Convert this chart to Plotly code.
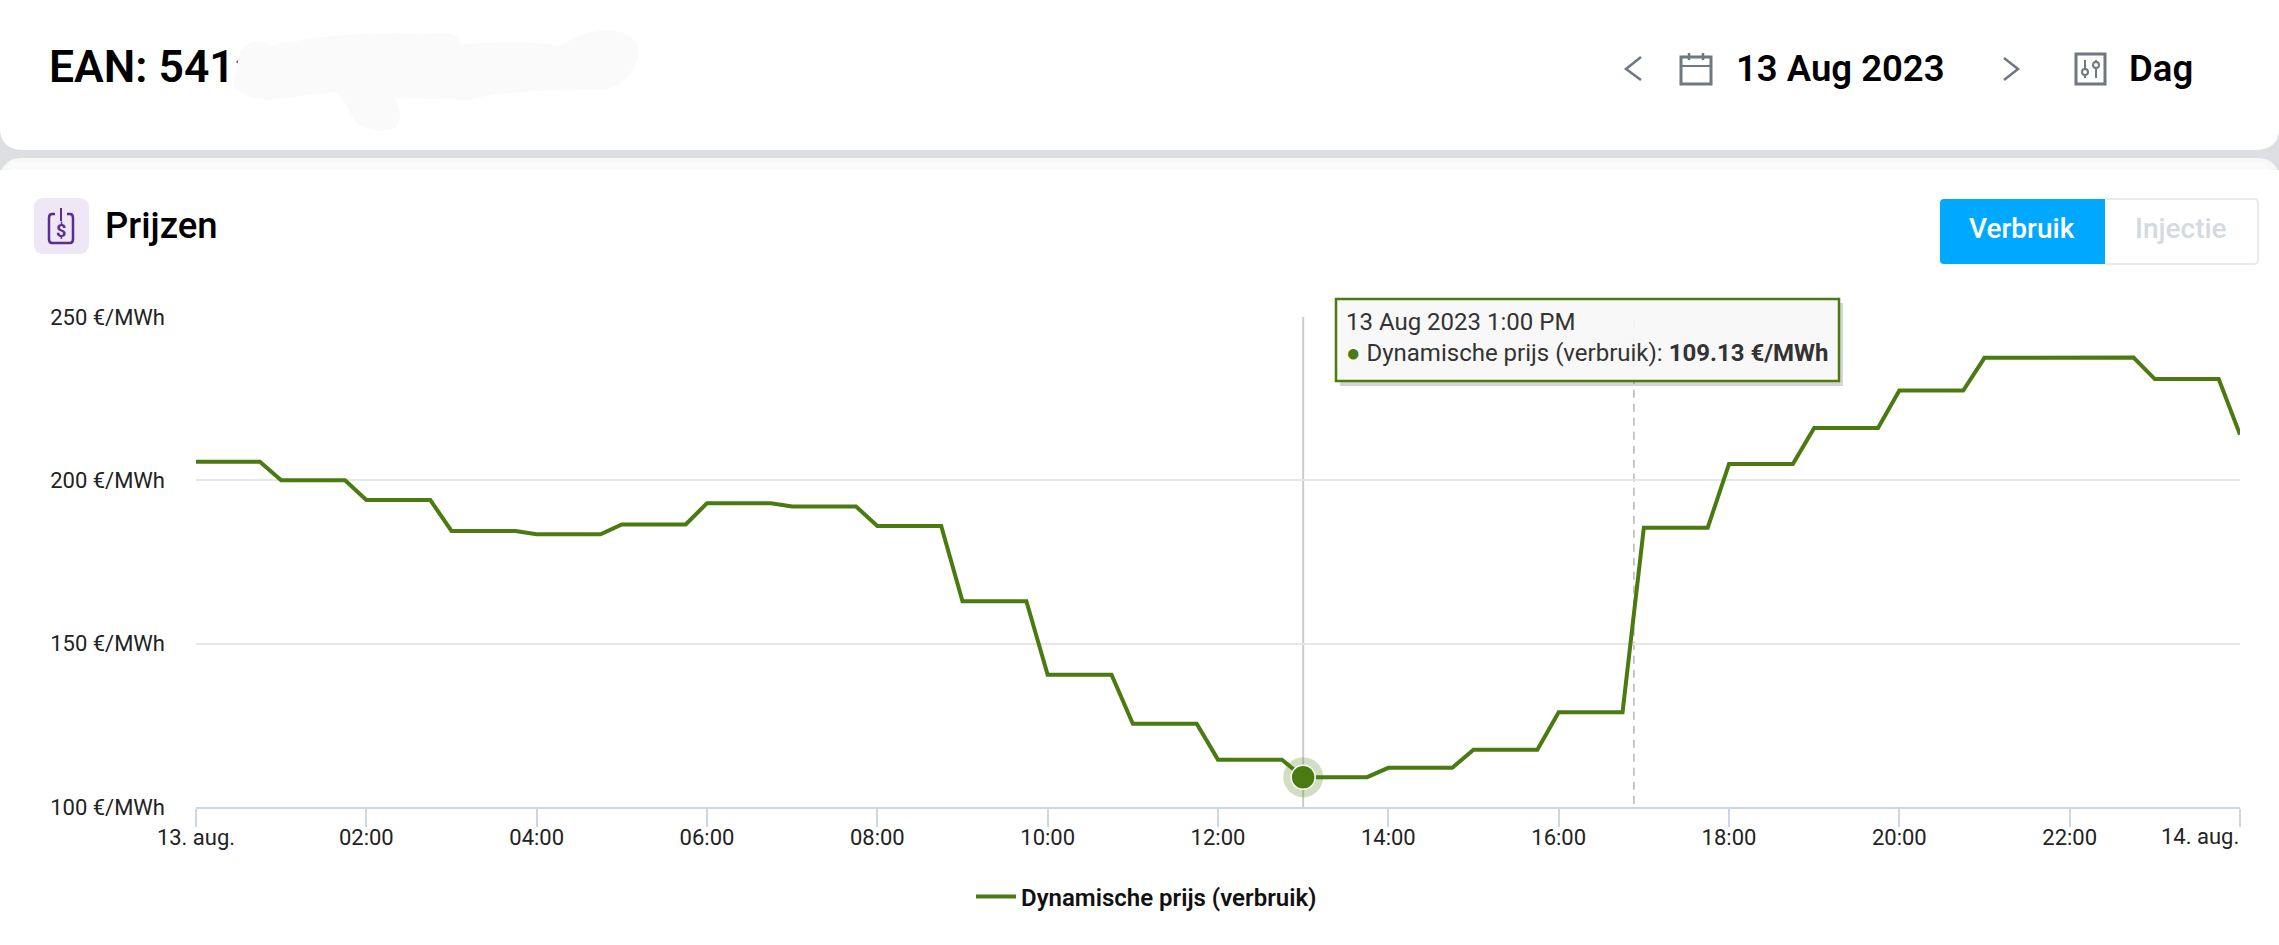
import pandas as pd
import plotly.graph_objects as go

W, H = 2279, 945

hourly_prices = [205.7, 200.0, 194.0, 184.5, 183.5, 186.5, 193.0, 192.0, 186.0, 163.0, 140.5, 125.5,
                 114.5, 109.13, 112.0, 117.5, 129.0, 185.5, 205.0, 216.0, 227.5, 237.5, 237.6, 231.0]
end_of_day_price = 214.0
day_start = "2023-08-13 00:00"
day_end = "2023-08-14 00:00"
highlight_time = "2023-08-13 13:00"
highlight_price = 109.13
now_time = "2023-08-13 16:53"
tick_times = pd.date_range(day_start, day_end, freq="2h")
tick_labels = ["13. aug.", "02:00", "04:00", "06:00", "08:00", "10:00", "12:00", "14:00",
               "16:00", "18:00", "20:00", "22:00", ""]
end_tick_label = "14. aug."
y_ticks = [100, 150, 200, 250]
y_tick_labels = ["100 €/MWh", "150 €/MWh", "200 €/MWh", "250 €/MWh"]
series_name = "Dynamische prijs (verbruik)"

GREEN = "#4a7a10"
FONT = "Roboto"


def px(x):
    return x / W


def py(y):
    return 1 - y / H


def pth(*parts):
    """Path written in picture pixels, converted to paper coordinates."""
    out = []
    for p in parts:
        if isinstance(p, str):
            out.append(p)
        else:
            out.append(f"{px(p[0]):.5f},{py(p[1]):.5f}")
    return " ".join(out)


shapes, annots = [], []


def rect(x0, y0, x1, y1, fill=None, line=None, lw=0, layer="below"):
    shapes.append(dict(type="rect", xref="paper", yref="paper", x0=px(x0), x1=px(x1), y0=py(y0), y1=py(y1),
                       fillcolor=fill or "rgba(0,0,0,0)", line=dict(color=line or "rgba(0,0,0,0)", width=lw), layer=layer))


def path(d, fill=None, line=None, lw=0, layer="below"):
    shapes.append(dict(type="path", xref="paper", yref="paper", path=d, fillcolor=fill or "rgba(0,0,0,0)",
                       line=dict(color=line or "rgba(0,0,0,0)", width=lw), layer=layer))


def seg(x0, y0, x1, y1, color, lw=2, layer="below"):
    shapes.append(dict(type="line", xref="paper", yref="paper", x0=px(x0), x1=px(x1), y0=py(y0), y1=py(y1),
                       line=dict(color=color, width=lw), layer=layer))


def circ(cx, cy, r, color, lw=2):
    shapes.append(dict(type="circle", xref="paper", yref="paper", x0=px(cx - r), x1=px(cx + r), y0=py(cy + r), y1=py(cy - r),
                       fillcolor="white", line=dict(color=color, width=lw), layer="below"))


def text(x, y, s, size, color="#000000", weight=400, anchor="left"):
    annots.append(dict(xref="paper", yref="paper", x=px(x), y=py(y), text=s, showarrow=False, xanchor=anchor,
                       yanchor="middle", align="left", borderpad=0, font=dict(family=FONT, size=size, color=color, weight=weight)))


# page chrome: two cards on a grey strip
rect(0, 125, W, 185, fill="#dcdee1")
path(pth("M", (0, 0), "L", (W, 0), "L", (W, 128), "Q", (W, 150), (W - 24, 150), "L", (24, 150), "Q", (0, 150), (0, 128), "Z"), fill="#ffffff")
path(pth("M", (0, 180), "Q", (0, 158), (24, 158), "L", (W - 24, 158), "Q", (W, 158), (W, 180), "L", (W, H), "L", (0, H), "Z"), fill="#f7f8f8")
rect(0, 170, W, H, fill="#ffffff")
rect(12, 162, W - 12, 170, fill="#fbfbfb")

# header
text(48, 67, "EAN: 541", 44.5, weight=600)
path(pth("M", (236, 62), "L", (240, 58), "L", (238, 64), "Z"), fill="#555555")
path(pth("M", (240, 52), "Q", (256, 34), (270, 46), "Q", (340, 30), (430, 34), "Q", (452, 28), (462, 44), "Q", (540, 40), (560, 46),
         "Q", (590, 26), (622, 32), "Q", (650, 44), (632, 70), "Q", (620, 92), (590, 90), "Q", (500, 90), (470, 100), "L", (395, 98),
         "Q", (405, 118), (395, 128), "Q", (375, 136), (355, 122), "Q", (345, 100), (335, 92), "L", (270, 100), "Q", (238, 98), (233, 84), "Z"),
     fill="#fafafa")

# date navigation icons
ICON = "#6f7780"
path(pth("M", (1641, 57), "L", (1626, 69), "L", (1641, 80)), line=ICON, lw=2.5)
path(pth("M", (2004, 58), "L", (2018, 69), "L", (2004, 80)), line=ICON, lw=2.5)
rect(1681, 57, 1711, 84, line=ICON, lw=3)
seg(1681, 66, 1711, 66, ICON, 2)
seg(1689, 53, 1689, 60, ICON, 2.5)
seg(1703, 53, 1703, 60, ICON, 2.5)
text(1735, 68, "13 Aug 2023", 36.5, weight=600)
rect(2076, 54, 2105, 84, line=ICON, lw=3)
seg(2085, 60, 2085, 78, ICON, 2)
seg(2096, 60, 2096, 78, ICON, 2)
circ(2085, 72, 3, ICON)
circ(2096, 65, 3, ICON)
text(2128, 68, "Dag", 36.5, weight=600)

# section title
path(pth("M", (44, 198), "L", (79, 198), "Q", (89, 198), (89, 208), "L", (89, 244), "Q", (89, 254), (79, 254), "L", (44, 254),
         "Q", (34, 254), (34, 244), "L", (34, 208), "Q", (34, 198), (44, 198), "Z"), fill="#efe6f6")
PURPLE = "#5a2d91"
path(pth("M", (55, 214), "L", (52, 214), "Q", (49, 214), (49, 218), "L", (49, 239), "Q", (49, 243), (52, 243), "L", (70, 243),
         "Q", (73, 243), (73, 239), "L", (73, 218), "Q", (73, 214), (70, 214), "L", (67, 214)), line=PURPLE, lw=2.5)
seg(61, 208, 61, 221, PURPLE, 2)
text(61, 230, "$", 18, color=PURPLE, weight=700, anchor="center")
text(104, 225, "Prijzen", 36.5, weight=500)

# toggle
path(pth("M", (1944, 199), "L", (2105, 199), "L", (2105, 264), "L", (1944, 264), "Q", (1940, 264), (1940, 260), "L", (1940, 203), "Q", (1940, 199), (1944, 199), "Z"),
     fill="#00a8ff")
path(pth("M", (2105, 199), "L", (2254, 199), "Q", (2258, 199), (2258, 203), "L", (2258, 260), "Q", (2258, 264), (2254, 264), "L", (2105, 264)),
     line="#e8ebee", lw=2)
text(2022, 229, "Verbruik", 28, color="#ffffff", weight=500, anchor="center")
text(2181, 229, "Injectie", 28, color="#d3dae2", weight=500, anchor="center")

# crosshair and current-time line, placed by data x
shapes.append(dict(type="line", xref="x", yref="y", x0=highlight_time, x1=highlight_time, y0=100, y1=250,
                   line=dict(color="#cccccc", width=2), layer="below"))
shapes.append(dict(type="line", xref="x", yref="y", x0=now_time, x1=now_time, y0=101, y1=250,
                   line=dict(color="#b5b5b5", width=1.5, dash="8px,6px"), layer="below"))

# tooltip
rect(1340, 382, 1843, 386, fill="rgba(60,70,50,0.22)", layer="above")
rect(1840, 303, 1843, 382, fill="rgba(60,70,50,0.22)", layer="above")
rect(1336, 299, 1839, 381, fill="rgba(247,247,247,0.93)", line=GREEN, lw=2.5, layer="above")
text(1345, 322, "13 Aug 2023 1:00 PM", 24, color="#333333")
text(1345, 353, f"<span style='color:{GREEN}'>●</span> {series_name}: <b>{highlight_price:.2f} €/MWh</b>", 24, color="#333333")

# last tick label kept inside the plot's right edge
annots.append(dict(xref="x", yref="paper", x=day_end, y=py(836), text=end_tick_label, showarrow=False, xanchor="right",
                   yanchor="middle", borderpad=0, font=dict(family=FONT, size=22, color="#222222")))

times = pd.date_range(day_start, periods=96, freq="15min").tolist() + [pd.Timestamp(day_end)]
values = [p for p in hourly_prices for _ in range(4)] + [end_of_day_price]

fig = go.Figure()
fig.add_trace(go.Scatter(x=times, y=values, mode="lines", name=series_name, line=dict(color=GREEN, width=4),
                         hoverinfo="skip"))
fig.add_trace(go.Scatter(x=[highlight_time], y=[highlight_price], mode="markers", showlegend=False, hoverinfo="skip",
                         marker=dict(size=40, color=GREEN, opacity=0.25)))
fig.add_trace(go.Scatter(x=[highlight_time], y=[highlight_price], mode="markers", showlegend=False, hoverinfo="skip",
                         marker=dict(size=24, color=GREEN, line=dict(color="#ffffff", width=1.5))))

fig.update_layout(
    width=W, height=H, margin=dict(l=0, r=0, t=0, b=0, pad=0, autoexpand=False), autosize=False,
    paper_bgcolor="#ffffff", plot_bgcolor="rgba(0,0,0,0)",
    font=dict(family=FONT, size=22, color="#222222"),
    shapes=shapes, annotations=annots, hovermode=False,
    legend=dict(orientation="h", x=px(971), xanchor="left", y=py(897), yanchor="middle",
                bgcolor="rgba(0,0,0,0)", font=dict(family=FONT, size=24, color="#111111", weight=600),
                itemwidth=40),
    xaxis=dict(domain=[px(196), px(2240)], type="date", range=[day_start, day_end], tickmode="array",
               tickvals=tick_times, ticktext=tick_labels, showgrid=False, zeroline=False, showline=True,
               linecolor="#ccd6eb", linewidth=2, ticks="outside", ticklen=18, tickwidth=2, tickcolor="#ccd6eb",
               tickfont=dict(family=FONT, size=22, color="#222222"), ticklabelstandoff=-8),
    yaxis=dict(domain=[py(807), py(317)], range=[100, 250], tickmode="array", tickvals=y_ticks, ticktext=y_tick_labels,
               showgrid=True, gridcolor="#e6e6e6", gridwidth=1.5, zeroline=False, showline=False, ticks="",
               tickfont=dict(family=FONT, size=22, color="#222222"), ticklabelstandoff=30),
)

fig.write_html("out.html", config=dict(displayModeBar=False),
               post_script="document.body.style.margin='0';document.body.style.overflow='hidden';")
